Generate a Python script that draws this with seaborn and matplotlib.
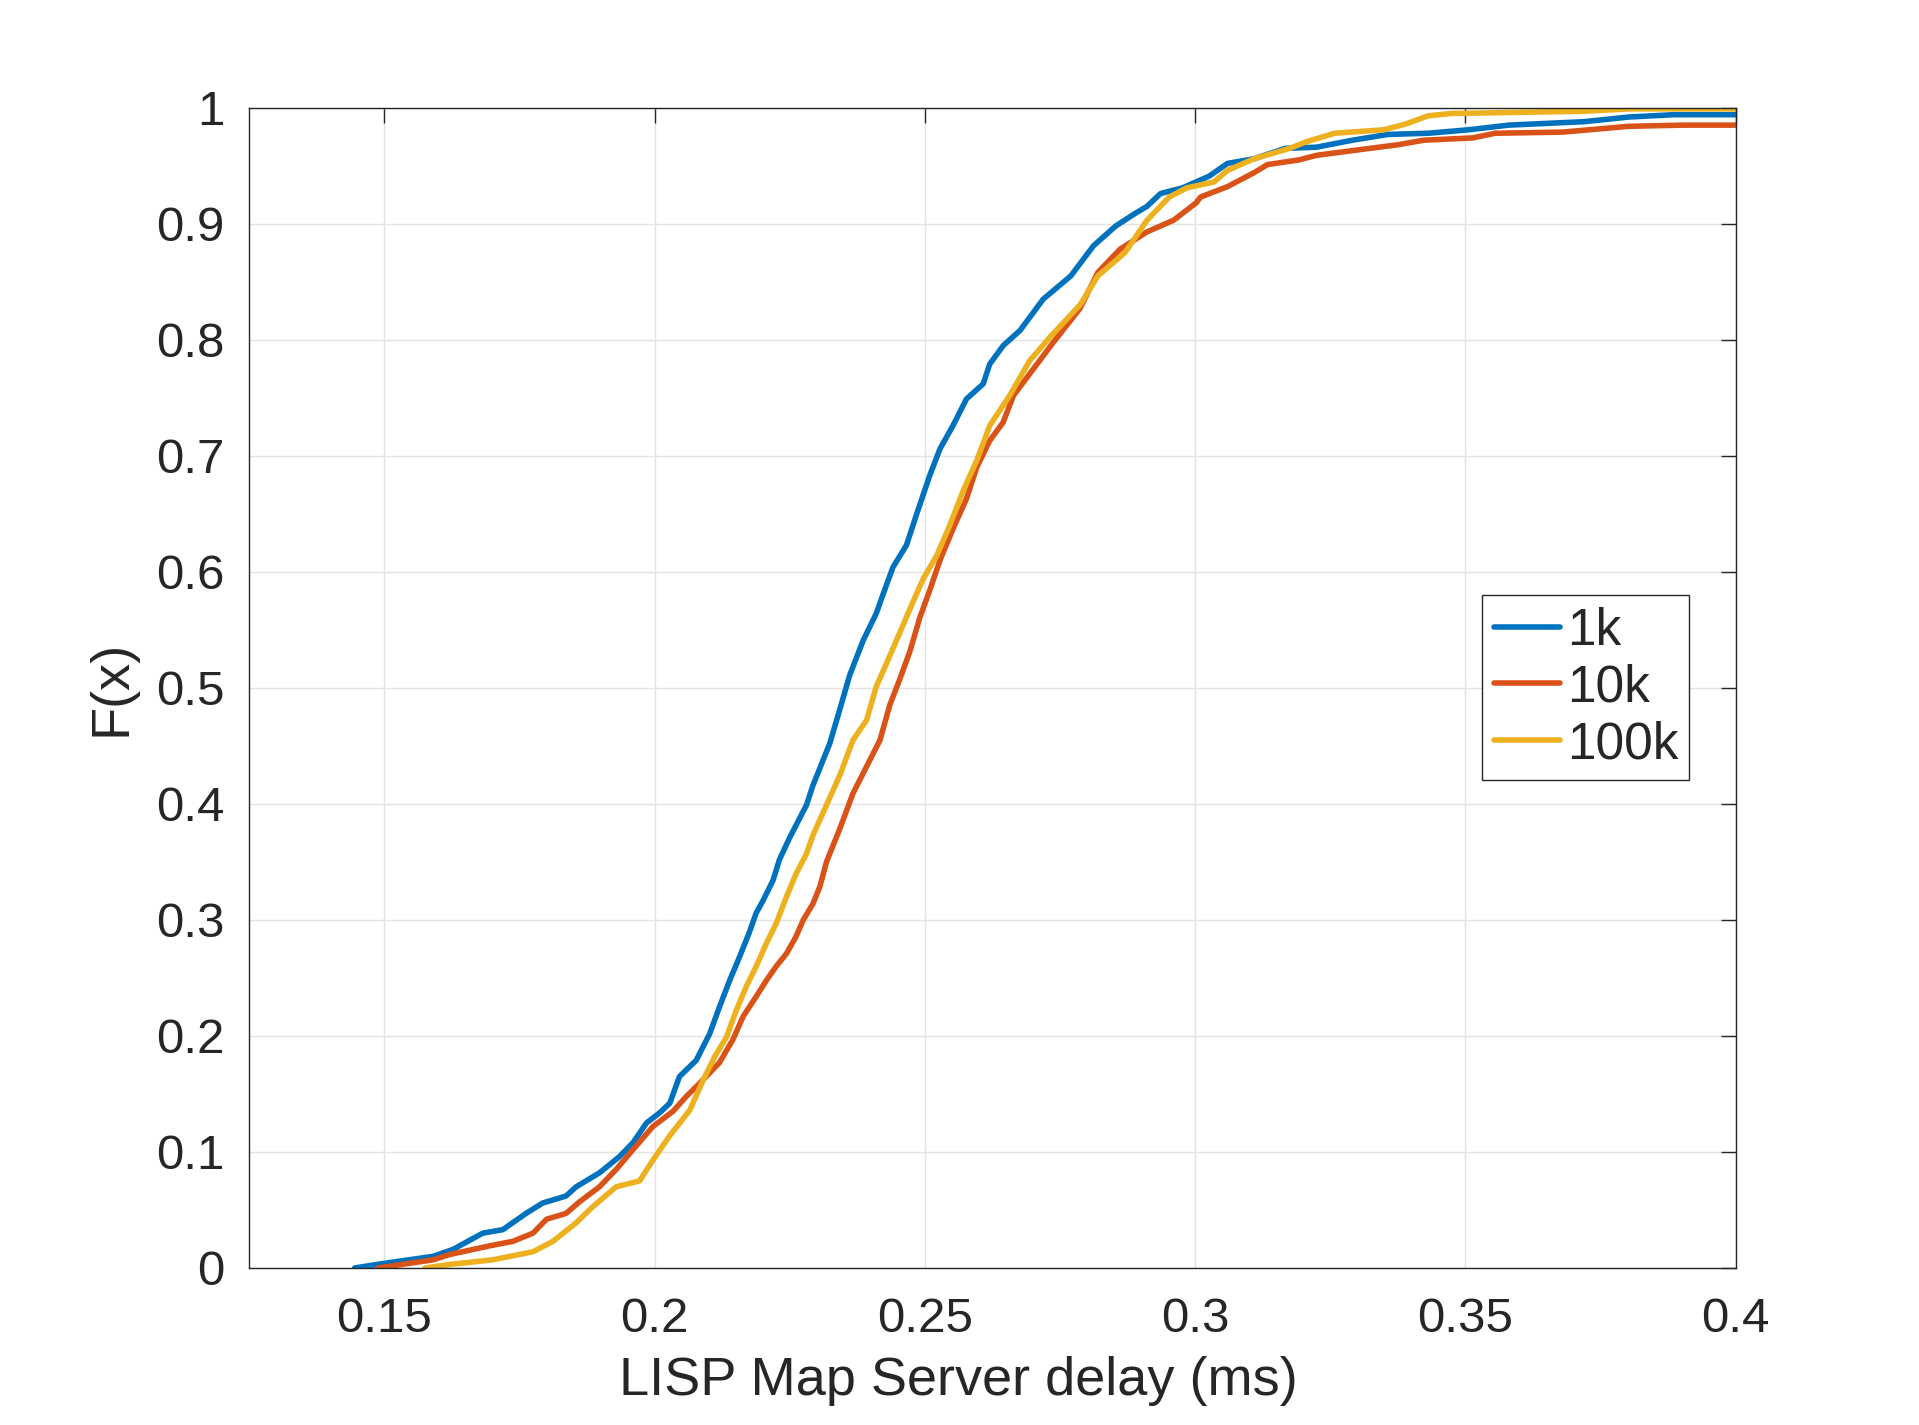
import pandas as pd
import matplotlib
matplotlib.use("Agg")
import matplotlib.pyplot as plt
import seaborn as sns

# CDF of LISP Map Server delay (delay in ms, F(x))
series_names = ["1k", "10k", "100k"]

delay_1k = [0.1445, 0.150, 0.159, 0.1627, 0.1682, 0.1719, 0.1762, 0.1793, 0.1836, 0.1855,
            0.1898, 0.1935, 0.196, 0.1985, 0.201, 0.2028, 0.2046, 0.2077, 0.2102, 0.2120,
            0.2139, 0.2157, 0.2175, 0.2188, 0.2201, 0.2219, 0.2231, 0.225, 0.2281, 0.2293,
            0.2324, 0.2343, 0.2361, 0.2386, 0.2410, 0.2423, 0.2441, 0.2466, 0.2485, 0.2509,
            0.2528, 0.2552, 0.2577, 0.2608, 0.262, 0.2645, 0.2676, 0.2719, 0.2770, 0.2812,
            0.2853, 0.2886, 0.2911, 0.2936, 0.2977, 0.3026, 0.306, 0.3109, 0.3167, 0.3225,
            0.3291, 0.3357, 0.3431, 0.3506, 0.358, 0.372, 0.3803, 0.3886, 0.4]
cdf_1k = [0, 0.004, 0.010, 0.016, 0.030, 0.033, 0.047, 0.056, 0.062, 0.070,
          0.082, 0.096, 0.108, 0.125, 0.134, 0.142, 0.165, 0.179, 0.202, 0.225,
          0.248, 0.268, 0.289, 0.306, 0.317, 0.334, 0.352, 0.371, 0.399, 0.416,
          0.452, 0.482, 0.511, 0.541, 0.564, 0.581, 0.604, 0.623, 0.650, 0.683,
          0.706, 0.726, 0.749, 0.762, 0.779, 0.795, 0.808, 0.835, 0.855, 0.881,
          0.898, 0.908, 0.915, 0.926, 0.931, 0.941, 0.952, 0.956, 0.965, 0.966,
          0.972, 0.977, 0.978, 0.981, 0.985, 0.988, 0.992, 0.994, 0.994]

delay_10k = [0.1488, 0.159, 0.162, 0.1694, 0.1738, 0.1775, 0.18, 0.1836, 0.1861, 0.1898,
             0.1929, 0.196, 0.1997, 0.2034, 0.2059, 0.2083, 0.212, 0.2145, 0.2164, 0.2188,
             0.2207, 0.2225, 0.2244, 0.2262, 0.2275, 0.2293, 0.2306, 0.2318, 0.2343, 0.2367,
             0.2392, 0.2417, 0.2435, 0.2454, 0.2472, 0.2491, 0.2509, 0.2528, 0.2552, 0.2577,
             0.2596, 0.2620, 0.2645, 0.2664, 0.2701, 0.2738, 0.2787, 0.282, 0.2861, 0.2911,
             0.296, 0.3002, 0.301, 0.306, 0.3109, 0.3134, 0.3192, 0.3225, 0.3307, 0.3374,
             0.3423, 0.3514, 0.3555, 0.368, 0.3803, 0.3902, 0.4]
cdf_10k = [0, 0.007, 0.0115, 0.019, 0.023, 0.030, 0.042, 0.047, 0.057, 0.070,
           0.085, 0.102, 0.122, 0.135, 0.148, 0.159, 0.177, 0.197, 0.217, 0.234,
           0.248, 0.260, 0.271, 0.286, 0.300, 0.314, 0.329, 0.350, 0.379, 0.409,
           0.432, 0.455, 0.485, 0.508, 0.531, 0.561, 0.584, 0.610, 0.637, 0.663,
           0.690, 0.713, 0.729, 0.752, 0.775, 0.798, 0.827, 0.858, 0.878, 0.893,
           0.903, 0.918, 0.923, 0.932, 0.944, 0.951, 0.955, 0.959, 0.964, 0.968,
           0.972, 0.974, 0.978, 0.979, 0.984, 0.985, 0.985]

delay_100k = [0.1575, 0.162, 0.170, 0.1775, 0.1812, 0.1855, 0.1886, 0.1929, 0.1972, 0.1997,
              0.2028, 0.2065, 0.209, 0.2111, 0.2133, 0.2151, 0.217, 0.2188, 0.2207, 0.2225,
              0.2244, 0.2262, 0.2281, 0.2293, 0.2318, 0.2343, 0.2367, 0.2392, 0.2410, 0.2429,
              0.2454, 0.2478, 0.2497, 0.2522, 0.2546, 0.2571, 0.2596, 0.2620, 0.2657, 0.2694,
              0.2731, 0.2787, 0.282, 0.287, 0.2911, 0.2952, 0.2985, 0.3035, 0.306, 0.3109,
              0.3175, 0.3208, 0.3258, 0.3349, 0.339, 0.3431, 0.3473, 0.3721, 0.3803, 0.4]
cdf_100k = [0, 0.003, 0.007, 0.014, 0.023, 0.039, 0.053, 0.070, 0.075, 0.093,
            0.114, 0.136, 0.162, 0.182, 0.199, 0.222, 0.243, 0.260, 0.280, 0.297,
            0.320, 0.340, 0.357, 0.373, 0.399, 0.425, 0.455, 0.472, 0.501, 0.521,
            0.548, 0.574, 0.594, 0.614, 0.640, 0.670, 0.696, 0.726, 0.752, 0.782,
            0.802, 0.830, 0.855, 0.875, 0.903, 0.923, 0.931, 0.936, 0.946, 0.956,
            0.965, 0.971, 0.978, 0.981, 0.986, 0.993, 0.995, 0.997, 0.999, 0.999]

x_ticks = [0.15, 0.2, 0.25, 0.3, 0.35, 0.4]
x_tick_labels = ["0.15", "0.2", "0.25", "0.3", "0.35", "0.4"]
y_ticks = [0, 0.1, 0.2, 0.3, 0.4, 0.5, 0.6, 0.7, 0.8, 0.9, 1]
y_tick_labels = ["0", "0.1", "0.2", "0.3", "0.4", "0.5", "0.6", "0.7", "0.8", "0.9", "1"]

colors = ["#0072BD", "#D95319", "#EDB120"]

frames = []
for name, xs, ys in zip(series_names,
                        [delay_1k, delay_10k, delay_100k],
                        [cdf_1k, cdf_10k, cdf_100k]):
    frames.append(pd.DataFrame({"delay": xs, "F": ys, "series": name}))
df = pd.concat(frames, ignore_index=True)

sns.set_style("white")
plt.rcParams["font.family"] = ["Liberation Sans", "DejaVu Sans"]

fig = plt.figure(figsize=(19.19, 14.25), dpi=100)
ax = fig.add_axes([0.1299, 0.1102, 0.7745, 0.8142])

sns.lineplot(data=df, x="delay", y="F", hue="series", hue_order=series_names,
             palette=colors, sort=False, estimator=None, linewidth=4.0, ax=ax)

ax.set_xlim(0.125, 0.4)
ax.set_ylim(0, 1)
ax.set_xticks(x_ticks)
ax.set_xticklabels(x_tick_labels)
ax.set_yticks(y_ticks)
ax.set_yticklabels(y_tick_labels)

ax.grid(True, color="#e3e3e3", linewidth=1.0)
ax.set_axisbelow(True)
for s in ax.spines.values():
    s.set_color("#262626")
    s.set_linewidth(1.0)
ax.tick_params(direction="in", length=10.5, width=1.0, color="#262626",
               top=True, right=True, labelsize=35.5, labelcolor="#262626")
ax.tick_params(axis="x", pad=21)
ax.tick_params(axis="y", pad=18)

ax.set_xlabel("LISP Map Server delay (ms)", fontsize=39, color="#262626")
ax.xaxis.set_label_coords(0.477, -0.076)
ax.set_ylabel("F(x)", fontsize=39, color="#262626", labelpad=14)

leg = ax.legend(loc="center right", bbox_to_anchor=(0.969, 0.5), fontsize=37,
                frameon=True, fancybox=False, edgecolor="#262626", framealpha=1,
                handlelength=1.3, handletextpad=0.12, labelspacing=0.15,
                borderpad=0.22, borderaxespad=0)
leg.get_frame().set_linewidth(1.0)
for line in leg.get_lines():
    line.set_linewidth(4.0)

fig.savefig("out.png", dpi=100)
